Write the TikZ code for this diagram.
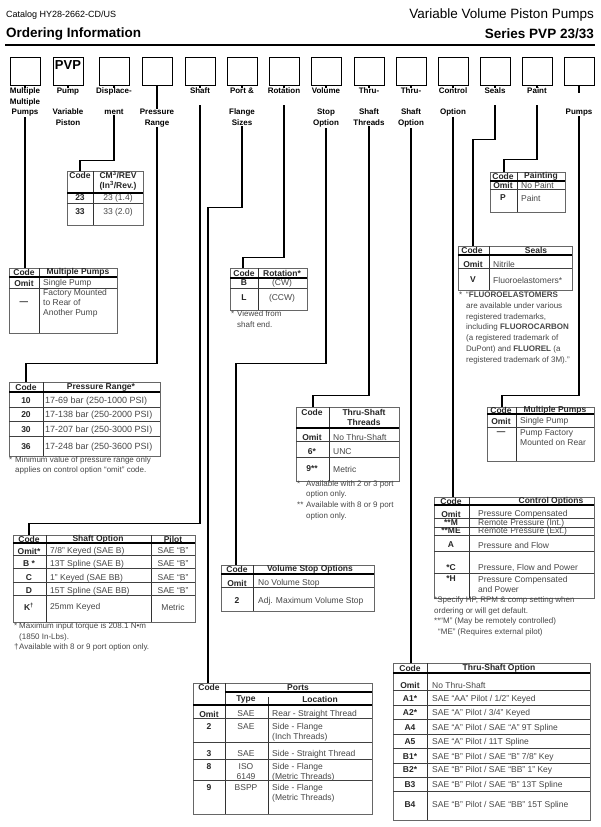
\documentclass[tikz,border=0pt]{standalone}
\usepackage{fontspec}
\setmainfont{Liberation Sans}
\usetikzlibrary{positioning}

\newcommand\lblfont{\fontsize{8}{10.7}\selectfont\bfseries}
\newcommand\tabfont{\fontsize{8.5}{10}\selectfont}
\newcommand\notefont{\fontsize{8}{10.7}\selectfont}

\begin{document}
\begin{tikzpicture}[
    x=1pt, y=-1pt,
    codebox/.style = {draw, line width=0.9pt, minimum width=30pt,
                      minimum height=28pt, inner sep=0pt},
    lbl/.style     = {font=\lblfont, align=center, anchor=north,
                      fill=white, inner sep=0.3pt},
    wire/.style    = {line width=1.8pt},
    tframe/.style  = {draw=black!60, line width=0.8pt, anchor=north west,
                      inner sep=0pt},
    hthick/.style  = {line width=1.5pt},
    hrule/.style   = {draw=black!75, line width=0.6pt},
    vrule/.style   = {draw=black!80, line width=0.8pt},
    hdr/.style     = {font=\tabfont\bfseries, text=black!85, inner sep=0pt,
                      align=center},
    code/.style    = {font=\tabfont\bfseries, text=black!85, inner sep=0pt},
    desc/.style    = {font=\tabfont, text=black!72, anchor=west,
                      inner sep=0pt, align=left},
    cdesc/.style   = {desc, anchor=center, align=center},
    note/.style    = {font=\notefont, text=black!72, anchor=west,
                      inner sep=0pt, align=left}
]
\fill[white] (0,0) rectangle (600,827);
\useasboundingbox (0,0) rectangle (600,827);

% ========= title block =========
\node[font=\fontsize{9}{10}\selectfont, anchor=west, inner sep=0pt]
    (catalog) at (6,15) {Catalog HY28-2662-CD/US};
\node[font=\fontsize{13.5}{15}\selectfont\bfseries, anchor=west, inner sep=0pt]
    (ordering) at (6,34) {Ordering Information};
\node[font=\fontsize{13.5}{15}\selectfont, anchor=east, inner sep=0pt]
    (family) at (594,15) {Variable Volume Piston Pumps};
\node[font=\fontsize{13.5}{15}\selectfont\bfseries, anchor=east, inner sep=0pt]
    (series) at (594,34) {Series PVP 23/33};
\draw[line width=2.6pt] (5,45) -- (595,45);

% ========= model code boxes =========
\foreach \i/\x in {1/25,2/68,3/114,4/157,5/200,6/242,7/284,
                   8/326,9/369,10/411,11/453,12/495,13/537,14/579}
  \node[codebox] (b\i) at (\x,71) {};
\node[font=\fontsize{13}{13}\selectfont\bfseries, inner sep=0pt]
    (pvp) at (68,65) {PVP};

% ========= option tables =========
% displacement
\node[tframe, minimum width=76pt, minimum height=54pt] (disp) at (67,171) {};
\draw[vrule] (93,171) -- (93,225);
\draw[hthick] (67,193) -- (143,193);
\draw[hrule] (67,203) -- (143,203);
\node[hdr] (disphc) at (80,175) {Code};
\node[hdr] (disphv) at (118,181) {CM\textsuperscript{3}/REV\\(In\textsuperscript{3}/Rev.)};
\node[code]  (d23)  at (80,198)  {23};
\node[cdesc] (d23t) at (118,198) {23 (1.4)};
\node[code]  (d33)  at (80,212)  {33};
\node[cdesc] (d33t) at (118,212) {33 (2.0)};

% multiple pumps, front
\node[tframe, minimum width=108pt, minimum height=65pt] (mpl) at (9,268) {};
\draw[vrule] (39,268) -- (39,333);
\draw[hthick] (9,277) -- (117,277);
\draw[hrule] (9,288) -- (117,288);
\node[hdr]  (mplhc) at (24,272.5) {Code};
\node[hdr]  (mplhv) at (78,272.5) {Multiple Pumps};
\node[code] (mplo)  at (24,283)   {Omit};
\node[desc] (mplot) at (43,283)   {Single Pump};
\node[code] (mpld)  at (24,303)   {—};
\node[desc] (mpldt) at (43,303)   {Factory Mounted\\to Rear of\\Another Pump};

% rotation
\node[tframe, minimum width=77pt, minimum height=42pt] (rot) at (230,268) {};
\draw[vrule] (258,268) -- (258,310);
\draw[hthick] (230,278) -- (307,278);
\draw[hrule] (230,288) -- (307,288);
\node[hdr]   (rothc) at (244,273) {Code};
\node[hdr]   (rothv) at (282,273) {Rotation*};
\node[code]  (rotb)  at (244,283) {B};
\node[cdesc] (rotbt) at (282,283) {(CW)};
\node[code]  (rotl)  at (244,298) {L};
\node[cdesc] (rotlt) at (282,298) {(CCW)};
\node[note]  (rotn)  at (231,319) {\makebox[6pt][l]{*}Viewed from\\\hspace*{6pt}shaft end.};

% painting
\node[tframe, minimum width=75pt, minimum height=40pt] (paint) at (490,172) {};
\draw[vrule] (517,172) -- (517,212);
\draw[hthick] (490,181) -- (565,181);
\draw[hrule] (490,189) -- (565,189);
\node[hdr]  (painthc) at (503,176.5) {Code};
\node[hdr]  (painthv) at (541,176.5) {Painting};
\node[code] (painto)  at (503,185)   {Omit};
\node[desc] (paintot) at (521,185)   {No Paint};
\node[code] (paintp)  at (503,198)   {P};
\node[desc] (paintpt) at (521,198)   {Paint};

% seals
\node[tframe, minimum width=114pt, minimum height=44pt] (seals) at (458,246) {};
\draw[vrule] (489,246) -- (489,290);
\draw[hthick] (458,255) -- (572,255);
\draw[hrule] (458,268) -- (572,268);
\node[hdr]  (sealhc) at (472,250.5) {Code};
\node[hdr]  (sealhv) at (536,250.5) {Seals};
\node[code] (sealo)  at (473,264)   {Omit};
\node[desc] (sealot) at (493,264)   {Nitrile};
\node[code] (sealv)  at (473,280)   {V};
\node[desc] (sealvt) at (493,280)   {Fluoroelastomers*};
\node[note] (sealn)  at (459,328)
  {\makebox[7pt][l]{*}“\textbf{FLUOROELASTOMERS}\\
   \hspace*{7pt}are available under various\\
   \hspace*{7pt}registered trademarks,\\
   \hspace*{7pt}including \textbf{FLUOROCARBON}\\
   \hspace*{7pt}(a registered trademark of\\
   \hspace*{7pt}DuPont) and \textbf{FLUOREL} (a\\
   \hspace*{7pt}registered trademark of 3M).”};

% pressure range
\node[tframe, minimum width=151pt, minimum height=74pt] (pres) at (9,382) {};
\draw[vrule] (43,382) -- (43,456);
\draw[hthick] (9,392) -- (160,392);
\foreach \yy in {407,421,436} \draw[hrule] (9,\yy) -- (160,\yy);
\node[hdr] (preshc) at (26,387)  {Code};
\node[hdr] (preshv) at (101,387) {Pressure Range*};
\foreach \cd/\tx/\yy [count=\i] in {10/17-69 bar (250-1000 PSI)/401,
                                    20/17-138 bar (250-2000 PSI)/415,
                                    30/17-207 bar (250-3000 PSI)/430,
                                    36/17-248 bar (250-3600 PSI)/447} {
  \node[code] (presc\i) at (26,\yy) {\cd};
  \node[desc, font=\fontsize{9}{10}\selectfont] (prest\i) at (45,\yy) {\tx};
}
\node[note] (presn) at (9,465.5)
  {\makebox[6pt][l]{*}Minimum value of pressure range only\\
   \hspace*{6pt}applies on control option “omit” code.};

% thru-shaft threads
\node[tframe, minimum width=103pt, minimum height=74pt] (thr) at (296,407) {};
\draw[vrule] (329,407) -- (329,481);
\draw[hthick] (296,428) -- (399,428);
\foreach \yy in {441,457} \draw[hrule] (296,\yy) -- (399,\yy);
\node[hdr]  (thrhc) at (312,412) {Code};
\node[hdr]  (thrhv) at (364,417) {Thru-Shaft\\Threads};
\node[code] (thro)  at (312,437) {Omit};
\node[desc] (throt) at (333,437) {No Thru-Shaft};
\node[code] (thr6)  at (312,452) {6*};
\node[desc] (thr6t) at (333,452) {UNC};
\node[code] (thr9)  at (312,469) {9**};
\node[desc] (thr9t) at (333,469) {Metric};
\node[note] (thrn)  at (297,500)
  {\makebox[9pt][l]{*}Available with 2 or 3 port\\
   \hspace*{9pt}option only.\\
   \makebox[9pt][l]{**}Available with 8 or 9 port\\
   \hspace*{9pt}option only.};

% multiple pumps, rear
\node[tframe, minimum width=107pt, minimum height=54pt] (mpr) at (487,407) {};
\draw[vrule] (516,407) -- (516,461);
\draw[hthick] (487,414) -- (594,414);
\draw[hrule] (487,427) -- (594,427);
\node[hdr]  (mprhc) at (501,410.5) {Code};
\node[hdr]  (mprhv) at (555,410.5) {Multiple Pumps};
\node[code] (mpro)  at (501,421)   {Omit};
\node[desc] (mprot) at (520,421)   {Single Pump};
\node[code] (mprd)  at (501,433)   {—};
\node[desc] (mprdt) at (520,438)   {Pump Factory\\Mounted on Rear};

% control options
\node[tframe, minimum width=160pt, minimum height=101pt] (ctl) at (434,497) {};
\draw[vrule] (469,497) -- (469,598);
\draw[hthick] (434,505) -- (594,505);
\foreach \yy in {518,527,535,551,573} \draw[hrule] (434,\yy) -- (594,\yy);
\node[hdr]  (ctlhc) at (451,501) {Code};
\node[hdr]  (ctlhv) at (551,501) {Control Options};
\node[code] (ctlo)  at (451,514) {Omit};
\node[desc] (ctlot) at (478,514) {Pressure Compensated};
\node[code] (ctlm)  at (451,523) {**M};
\node[desc] (ctlmt) at (478,523) {Remote Pressure (Int.)};
\node[code] (ctle)  at (451,531) {**ME};
\node[desc] (ctlet) at (478,531) {Remote Pressure (Ext.)};
\node[code] (ctla)  at (451,545) {A};
\node[desc] (ctlat) at (478,545) {Pressure and Flow};
\node[code] (ctlc)  at (451,568) {*C};
\node[desc] (ctlct) at (478,568) {Pressure, Flow and Power};
\node[code] (ctlh)  at (451,579) {*H};
\node[desc] (ctlht) at (478,584.5) {Pressure Compensated\\and Power};
\node[note] (ctln)  at (434,616.5)
  {*Specify HP, RPM \& comp setting when\\
   ordering or will get default.\\
   **“M” (May be remotely controlled)\\
   \hspace*{4pt}“ME” (Requires external pilot)};

% shaft option
\node[tframe, minimum width=182pt, minimum height=87pt] (shaft) at (13,535) {};
\draw[vrule] (46,535) -- (46,622);
\draw[vrule] (151,535) -- (151,622);
\draw[hthick] (13,543) -- (195,543);
\foreach \yy in {555,568,582,595} \draw[hrule] (13,\yy) -- (195,\yy);
\node[hdr]   (shafthc) at (29,539)  {Code};
\node[hdr]   (shafthv) at (98,539)  {Shaft Option};
\node[hdr]   (shafthp) at (173,539) {Pilot};
\node[code]  (shafto)  at (29,551)  {Omit*};
\node[desc]  (shaftot) at (50,551)  {7/8" Keyed (SAE B)};
\node[cdesc] (shaftop) at (173,551) {SAE “B”};
\node[code]  (shaftb)  at (29,564)  {B *};
\node[desc]  (shaftbt) at (50,564)  {13T Spline (SAE B)};
\node[cdesc] (shaftbp) at (173,564) {SAE “B”};
\node[code]  (shaftc)  at (29,578)  {C};
\node[desc]  (shaftct) at (50,578)  {1" Keyed (SAE BB)};
\node[cdesc] (shaftcp) at (173,578) {SAE “B”};
\node[code]  (shaftd)  at (29,591)  {D};
\node[desc]  (shaftdt) at (50,591)  {15T Spline (SAE BB)};
\node[cdesc] (shaftdp) at (173,591) {SAE “B”};
\node[code]  (shaftk)  at (29,607)  {K\textsuperscript{†}};
\node[desc]  (shaftkt) at (50,607)  {25mm Keyed};
\node[cdesc] (shaftkp) at (173,607) {Metric};
\node[note]  (shaftn)  at (14,637)
  {\makebox[5pt][l]{*}Maximum input torque is 208.1 N•m\\
   \hspace*{5pt}(1850 In-Lbs).\\
   \makebox[5pt][l]{†}Available with 8 or 9 port option only.};

% volume stop
\node[tframe, minimum width=153pt, minimum height=46pt] (vol) at (221,565) {};
\draw[vrule] (253,565) -- (253,611);
\draw[hthick] (221,574) -- (374,574);
\draw[hrule] (221,587) -- (374,587);
\node[hdr]  (volhc) at (237,569.5) {Code};
\node[hdr]  (volhv) at (310,569.5) {Volume Stop Options};
\node[code] (volo)  at (237,583)   {Omit};
\node[desc] (volot) at (258,583)   {No Volume Stop};
\node[code] (vol2)  at (237,601)   {2};
\node[desc] (vol2t) at (258,601)   {Adj. Maximum Volume Stop};

% ports
\node[tframe, minimum width=179pt, minimum height=131pt] (ports) at (193,683) {};
\draw[vrule] (225,683) -- (225,814);
\draw[vrule] (268,697) -- (268,814);
\draw[hthick] (225,692) -- (372,692);
\draw[hthick] (193,705) -- (372,705);
\foreach \yy in {718,742,759,780} \draw[hrule] (193,\yy) -- (372,\yy);
\node[hdr]   (porthc) at (209,687.5) {Code};
\node[hdr]   (porthv) at (298,687.5) {Ports};
\node[hdr]   (portht) at (246,699)   {Type};
\node[hdr]   (porthl) at (320,699)   {Location};
\node[code]  (porto)  at (209,714) {Omit};
\node[cdesc] (portot) at (246,714) {SAE};
\node[desc]  (portol) at (272,714) {Rear - Straight Thread};
\node[code]  (port2)  at (209,727) {2};
\node[cdesc] (port2t) at (246,727) {SAE};
\node[desc]  (port2l) at (272,732) {Side - Flange\\(Inch Threads)};
\node[code]  (port3)  at (209,754) {3};
\node[cdesc] (port3t) at (246,754) {SAE};
\node[desc]  (port3l) at (272,754) {Side - Straight Thread};
\node[code]  (port8)  at (209,767) {8};
\node[cdesc] (port8t) at (246,772) {ISO\\6149};
\node[desc]  (port8l) at (272,772) {Side - Flange\\(Metric Threads)};
\node[code]  (port9)  at (209,788) {9};
\node[cdesc] (port9t) at (246,788) {BSPP};
\node[desc]  (port9l) at (272,793) {Side - Flange\\(Metric Threads)};

% thru-shaft option
\node[tframe, minimum width=197pt, minimum height=157pt] (tso) at (393,663) {};
\draw[vrule] (427,663) -- (427,820);
\draw[hthick] (393,673) -- (590,673);
\foreach \yy in {690,705,719,734,748,763,777,791} \draw[hrule] (393,\yy) -- (590,\yy);
\node[hdr]  (tsohc) at (410,668) {Code};
\node[hdr]  (tsohv) at (499,668) {Thru-Shaft Option};
\node[code] (tsoo)  at (410,685) {Omit};
\node[desc] (tsoot) at (432,685) {No Thru-Shaft};
\node[code] (tsoa1) at (410,699) {A1*};
\node[desc] (tsoa1t) at (432,699) {SAE “AA” Pilot / 1/2" Keyed};
\node[code] (tsoa2) at (410,713) {A2*};
\node[desc] (tsoa2t) at (432,713) {SAE “A” Pilot / 3/4" Keyed};
\node[code] (tsoa4) at (410,728) {A4};
\node[desc] (tsoa4t) at (432,728) {SAE “A” Pilot / SAE “A” 9T Spline};
\node[code] (tsoa5) at (410,742) {A5};
\node[desc] (tsoa5t) at (432,742) {SAE “A” Pilot / 11T Spline};
\node[code] (tsob1) at (410,757) {B1*};
\node[desc] (tsob1t) at (432,757) {SAE “B” Pilot / SAE “B” 7/8" Key};
\node[code] (tsob2) at (410,770) {B2*};
\node[desc] (tsob2t) at (432,770) {SAE “B” Pilot / SAE “BB” 1" Key};
\node[code] (tsob3) at (410,785) {B3};
\node[desc] (tsob3t) at (432,785) {SAE “B” Pilot / SAE “B” 13T Spline};
\node[code] (tsob4) at (410,805) {B4};
\node[desc] (tsob4t) at (432,805) {SAE “B” Pilot / SAE “BB” 15T Spline};

% ========= connectors, box to table =========
\coordinate (dispin)  at ([xshift=13pt]disp.north west);
\coordinate (presin)  at ([xshift=17pt]pres.north west);
\coordinate (shaftin) at ([xshift=16pt]shaft.north west);
\coordinate (portin)  at ([xshift=15pt]ports.north west);
\coordinate (rotin)   at ([xshift=13pt]rot.north west);
\coordinate (volin)   at ([xshift=15pt]vol.north west);
\coordinate (thrin)   at ([xshift=17pt]thr.north west);
\coordinate (sealin)  at ([xshift=15pt]seals.north west);
\coordinate (paintin) at ([xshift=14pt]paint.north west);
\coordinate (mprin)   at ([xshift=15pt]mpr.north west);

\draw[wire] (b1.south)  -- (b1.south |- mpl.north);
\draw[wire] (b2.south)  -- ++(0,5);
\draw[wire] (b3.south)  -- ++(0,75)  -| (dispin);
\draw[wire] (b4.south)  -- ++(0,278) -| (presin);
\draw[wire] (b5.south)  -- ++(0,438) -| (shaftin);
\draw[wire] (b6.south)  -- ++(0,122) -| (portin);
\draw[wire] (b7.south)  -- ++(0,172) -| (rotin);
\draw[wire] (b8.south)  -- ++(0,278) -| (volin);
\draw[wire] (b9.south)  -- ++(0,310) -| (thrin);
\draw[wire] (b10.south) -- (b10.south |- tso.north);
\draw[wire] (b11.south) -- (b11.south |- ctl.north);
\draw[wire] (b12.south) -- ++(0,54)  -| (sealin);
\draw[wire] (b13.south) -- ++(0,74)  -| (paintin);
\draw[wire] (b14.south) -- ++(0,310) -| (mprin);

% ========= box captions =========
\node[lbl] (l1)  at (25,87.3)  {Multiple\\Multiple\\Pumps};
\node[lbl] (l2)  at (68,87.3)  {Pump\\\mbox{}\\Variable\\Piston};
\node[lbl] (l3)  at (114,87.3) {Displace-\\\mbox{}\\ment};
\node[lbl] (l4)  at (157,108.6) {Pressure\\Range};
\node[lbl] (l5)  at (200,87.3) {Shaft\\\mbox{}};
\node[lbl] (l6)  at (242,87.3) {Port \&\\\mbox{}\\Flange\\Sizes};
\node[lbl] (l7)  at (284,87.3) {Rotation\\\mbox{}};
\node[lbl] (l8)  at (326,87.3) {Volume\\\mbox{}\\Stop\\Option};
\node[lbl] (l9)  at (369,87.3) {Thru-\\\mbox{}\\Shaft\\Threads};
\node[lbl] (l10) at (411,87.3) {Thru-\\\mbox{}\\Shaft\\Option};
\node[lbl] (l11) at (453,87.3) {Control\\\mbox{}\\Option};
\node[lbl] (l12) at (495,87.3) {Seals\\\mbox{}};
\node[lbl] (l13) at (537,87.3) {Paint\\\mbox{}};
\node[lbl] (l14) at (579,92.6) {\mbox{}\\\mbox{}\\Pumps};
\end{tikzpicture}
\end{document}
